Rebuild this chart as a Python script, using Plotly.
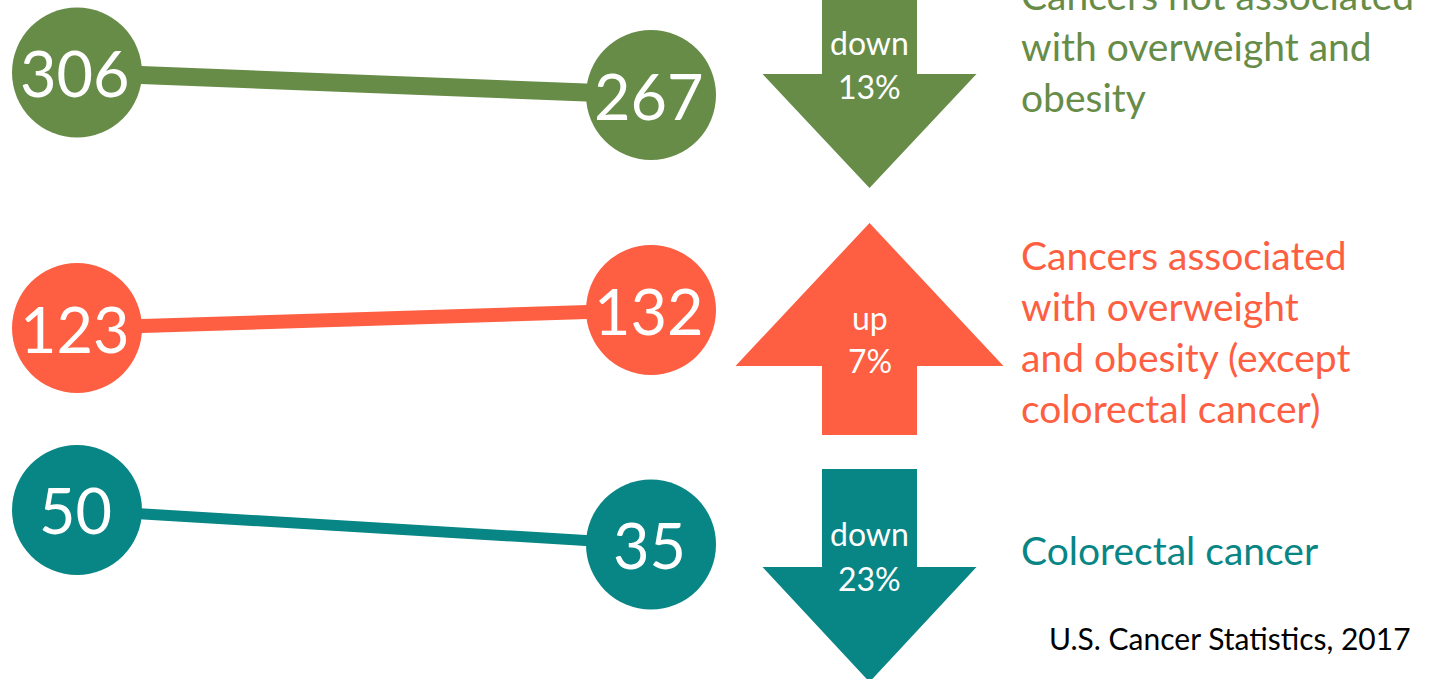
import plotly.graph_objects as go

W, H = 1431, 679

# ---- data ----
periods = [0, 1]
start_values = [306, 123, 50]
end_values = [267, 132, 35]
label_lines = [
    ["Cancers not associated", "with overweight and", "obesity"],
    ["Cancers associated", "with overweight", "and obesity (except", "colorectal cancer)"],
    ["Colorectal cancer"],
]
change_dir = ["down", "up", "down"]
change_pct = ["13%", "7%", "23%"]
source_text = "U.S. Cancer Statistics, 2017"

# ---- style ----
colors = ["#678C48", "#FE5E41", "#088585"]
line_widths = [18, 14, 11]
y_ranges = [[-745.3, 431.7], [-52.5, 287.0], [-23.5, 271.7]]
x_range = [-77 / 574, (W - 77) / 574]
FONT = "Lato"

def px(x, y):
    return x / W, 1 - y / H

fig = go.Figure()
yaxes = ["y", "y2", "y3"]
for i in range(3):
    fig.add_trace(go.Scatter(
        x=periods, y=[start_values[i], end_values[i]],
        yaxis=yaxes[i],
        mode="lines+markers",
        line=dict(color=colors[i], width=line_widths[i]),
        marker=dict(size=130, color=colors[i], line=dict(width=0)),
        hoverinfo="skip", showlegend=False,
    ))
    for xv, yv in zip(periods, [start_values[i], end_values[i]]):
        fig.add_annotation(x=xv, y=yv, xref="x", yref=yaxes[i], text=str(yv),
                           showarrow=False, xanchor="center", yanchor="middle",
                           xshift=-2, yshift=0,
                           font=dict(family=FONT, size=63, color="white"))

# arrows
arrow_specs = [
    dict(shaft_top=-5, head_y=74, tip_y=188, text_y=[42, 87]),
    dict(shaft_top=435, head_y=366, tip_y=223, text_y=[317, 360]),
    dict(shaft_top=469, head_y=567, tip_y=682, text_y=[533, 578]),
]
head_half = [107, 134, 107]
cx, sh = 869.5, 47.5
for i, a in enumerate(arrow_specs):
    hh = head_half[i]
    pts = [(cx - sh, a["shaft_top"]), (cx - sh, a["head_y"]), (cx - hh, a["head_y"]),
           (cx, a["tip_y"]), (cx + hh, a["head_y"]), (cx + sh, a["head_y"]),
           (cx + sh, a["shaft_top"])]
    path = "M " + " L ".join(f"{px(x, y)[0]:.5f},{px(x, y)[1]:.5f}" for x, y in pts) + " Z"
    fig.add_shape(type="path", path=path, xref="paper", yref="paper",
                  fillcolor=colors[i], line=dict(width=0), layer="below")
    for t, ty in zip([change_dir[i], change_pct[i]], a["text_y"]):
        x0, y0 = px(cx, ty)
        fig.add_annotation(x=x0, y=y0, xref="paper", yref="paper", text=t,
                           showarrow=False, xanchor="center", yanchor="middle",
                           font=dict(family=FONT, size=32, color="white"))

# right labels
label_first_y = [-5, 255, 550]
for i, lines in enumerate(label_lines):
    for j, line in enumerate(lines):
        x0, y0 = px(1019, label_first_y[i] + 51 * j)
        fig.add_annotation(x=x0, y=y0, xref="paper", yref="paper", text=line,
                           showarrow=False, xanchor="left", yanchor="middle",
                           font=dict(family=FONT, size=39, color=colors[i]))

x0, y0 = px(1413, 638)
fig.add_annotation(x=x0, y=y0, xref="paper", yref="paper", text=source_text,
                   showarrow=False, xanchor="right", yanchor="middle",
                   font=dict(family=FONT, size=30, color="black"))

ax_hidden = dict(visible=False, showgrid=False, zeroline=False, fixedrange=True)
fig.update_layout(
    width=W, height=H,
    margin=dict(l=0, r=0, t=0, b=0),
    paper_bgcolor="white", plot_bgcolor="white",
    xaxis=dict(range=x_range, domain=[0, 1], **ax_hidden),
    yaxis=dict(range=y_ranges[0], domain=[0, 1], **ax_hidden),
    yaxis2=dict(range=y_ranges[1], overlaying="y", **ax_hidden),
    yaxis3=dict(range=y_ranges[2], overlaying="y", **ax_hidden),
    hovermode=False,
)
fig.write_html("out.html", config={"displayModeBar": False},
               post_script="document.body.style.margin='0px';document.body.style.overflow='hidden';")
